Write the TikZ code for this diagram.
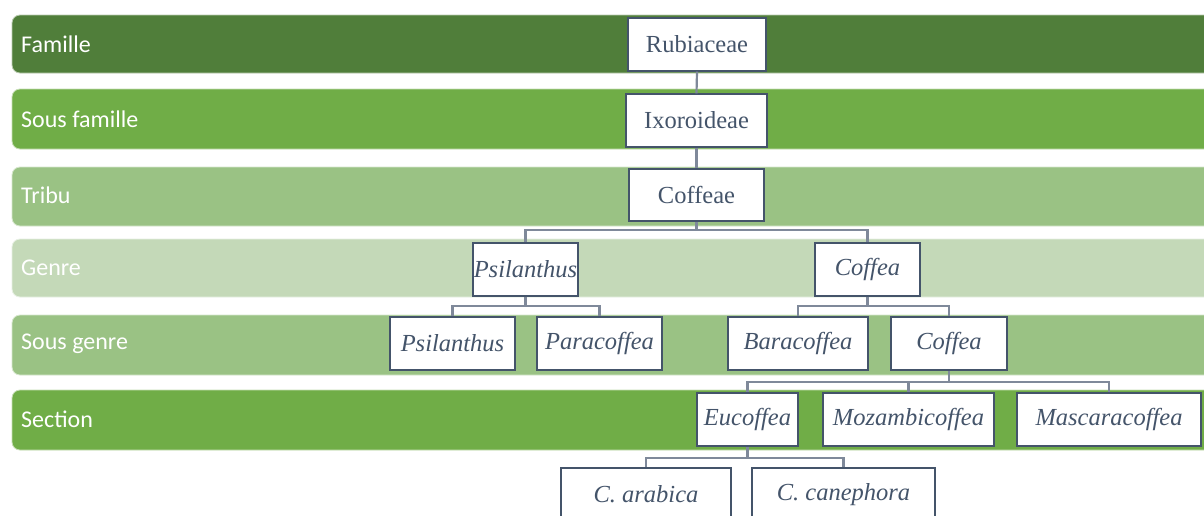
\documentclass[tikz,border=0pt]{standalone}
\usepackage{fontspec}
\setmainfont{Liberation Serif}
\newfontfamily\lblfont{Carlito}
\definecolor{gA}{HTML}{507E3A}
\definecolor{gB}{HTML}{70AD47}
\definecolor{gC}{HTML}{9AC284}
\definecolor{gD}{HTML}{C4D9B8}
\definecolor{boxline}{HTML}{44546A}
\definecolor{connc}{HTML}{7F899A}
\begin{document}
\begin{tikzpicture}[x=1pt,y=-1pt,
  band/.style={rounded corners=8pt, draw=white!60!#1, line width=0.8pt, fill=#1},
  lbl/.style={anchor=west, inner sep=0pt, text=white, font=\lblfont\fontsize{24}{28}\selectfont},
  tbox/.style={draw=boxline, line width=1.3pt, fill=white, inner sep=0pt, text=boxline,
    minimum height=53pt, font=\fontsize{24.5}{28}\selectfont},
  conn/.style={draw=connc, line width=2.2pt}]
\clip (0,0) rectangle (1204,515);
\fill[white] (0,0) rectangle (1204,515);
% bands
\path[band=gA] (12,15) rectangle (1230,73);
\path[band=gB] (12,89) rectangle (1230,149);
\path[band=gC] (12,167) rectangle (1230,226);
\path[band=gD] (12,239) rectangle (1230,297);
\path[band=gC] (12,315) rectangle (1230,375);
\path[band=gB] (12,390) rectangle (1230,450);
% labels
\node[lbl] (lfam) at (21,44) {Famille};
\node[lbl] (lsfam) at (21,119) {Sous famille};
\node[lbl] (ltri) at (21,195) {Tribu};
\node[lbl] (lgen) at (21,268) {Genre};
\node[lbl] (lsgen) at (21,344) {Sous genre};
\node[lbl] (lsec) at (21,419) {Section};
% bus coordinates
\coordinate (b1) at (0,230);
\coordinate (b2) at (0,306);
\coordinate (b3) at (0,382);
\coordinate (b4) at (0,458);
% boxes
\node[tbox, minimum width=138pt] (rub) at (697,44.5) {Rubiaceae};
\node[tbox, minimum width=141pt] (ixo) at (696.5,120.5) {Ixoroideae};
\node[tbox, minimum width=135pt, minimum height=52pt] (cof) at (696.5,195) {Coffeae};
\node[tbox, minimum width=105pt] (psg) at (525.5,269.5) {\itshape Psilanthus};
\node[tbox, minimum width=105pt] (cfg) at (867.5,269.5) {\itshape Coffea};
\node[tbox, minimum width=125pt] (pss) at (452.5,343.5) {\itshape Psilanthus};
\node[tbox, minimum width=125pt] (par) at (599.5,343.5) {\itshape Paracoffea};
\node[tbox, minimum width=140pt] (bar) at (798,343.5) {\itshape Baracoffea};
\node[tbox, minimum width=116pt] (cfs) at (949,343.5) {\itshape Coffea};
\node[tbox, minimum width=101pt] (euc) at (747.5,419.5) {\itshape Eucoffea};
\node[tbox, minimum width=171pt] (moz) at (908.5,419.5) {\itshape Mozambicoffea};
\node[tbox, minimum width=184pt] (mas) at (1109,419.5) {\itshape Mascaracoffea};
\node[tbox, minimum width=170pt] (ara) at (646,494.5) {\itshape C. arabica};
\node[tbox, minimum width=183pt] (can) at (843.5,494.5) {\itshape C. canephora};
% connectors
\draw[conn] (rub.south) -- (ixo.north);
\draw[conn] (ixo.south) -- (cof.north);
\draw[conn] (cof.south) -- (cof.south |- b1) -| (psg.north);
\draw[conn] (cof.south |- b1) -| (cfg.north);
\draw[conn] (psg.south) -- (psg.south |- b2) -| (pss.north);
\draw[conn] (psg.south |- b2) -| (par.north);
\draw[conn] (cfg.south) -- (cfg.south |- b2) -| (bar.north);
\draw[conn] (cfg.south |- b2) -| (cfs.north);
\draw[conn] (cfs.south) -- (cfs.south |- b3) -| (euc.north);
\draw[conn] (cfs.south |- b3) -| (moz.north);
\draw[conn] (cfs.south |- b3) -| (mas.north);
\draw[conn] (euc.south) -- (euc.south |- b4) -| (ara.north);
\draw[conn] (euc.south |- b4) -| (can.north);
\end{tikzpicture}
\end{document}
